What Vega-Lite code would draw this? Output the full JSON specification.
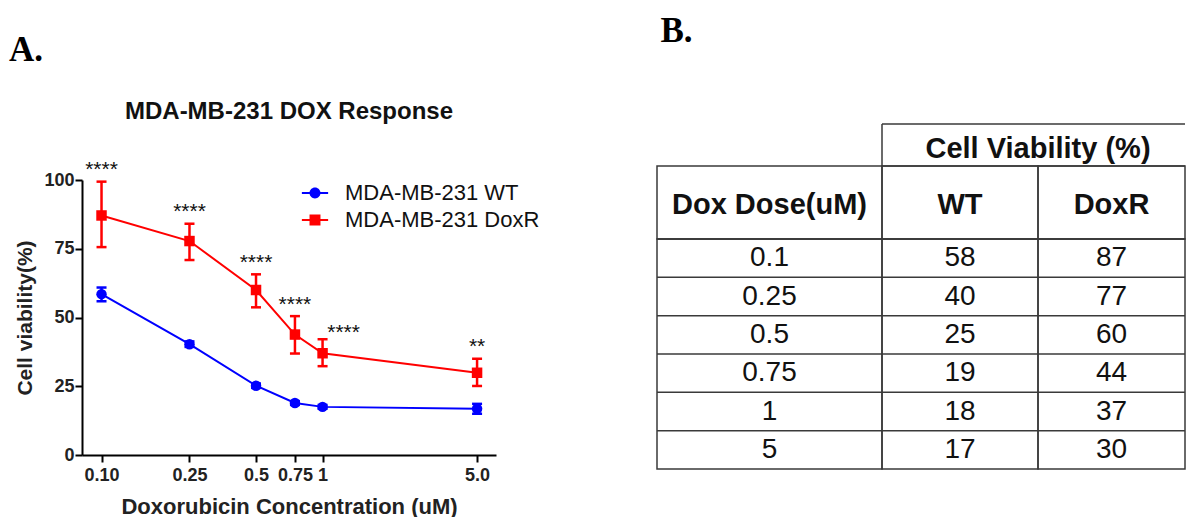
{
  "$schema": "https://vega.github.io/schema/vega-lite/v6.json",
  "padding": {"left": 8, "top": 14, "right": 0, "bottom": 0},
  "background": "white",
  "config": {
    "font": "Liberation Sans",
    "view": {"stroke": "#3a3a3a", "strokeWidth": 1.5}
  },
  "datasets": {
    "dox": [
      {"dose": 0.1, "cell": "MDA-MB-231 WT", "mean": 58.5, "lo": 55.9, "hi": 60.9, "sig": ""},
      {"dose": 0.25, "cell": "MDA-MB-231 WT", "mean": 40.3, "lo": 39.3, "hi": 41.3, "sig": ""},
      {"dose": 0.5, "cell": "MDA-MB-231 WT", "mean": 25.2, "lo": 24.4, "hi": 26.0, "sig": ""},
      {"dose": 0.75, "cell": "MDA-MB-231 WT", "mean": 18.9, "lo": 18.2, "hi": 19.6, "sig": ""},
      {"dose": 1, "cell": "MDA-MB-231 WT", "mean": 17.5, "lo": 16.8, "hi": 18.2, "sig": ""},
      {"dose": 5, "cell": "MDA-MB-231 WT", "mean": 16.8, "lo": 15.0, "hi": 18.6, "sig": ""},
      {"dose": 0.1, "cell": "MDA-MB-231 DoxR", "mean": 87.1, "lo": 75.6, "hi": 99.4, "sig": "****"},
      {"dose": 0.25, "cell": "MDA-MB-231 DoxR", "mean": 77.8, "lo": 70.9, "hi": 84.1, "sig": "****"},
      {"dose": 0.5, "cell": "MDA-MB-231 DoxR", "mean": 60.0, "lo": 53.7, "hi": 65.7, "sig": "****"},
      {"dose": 0.75, "cell": "MDA-MB-231 DoxR", "mean": 43.8, "lo": 36.9, "hi": 50.5, "sig": "****"},
      {"dose": 1, "cell": "MDA-MB-231 DoxR", "mean": 37.0, "lo": 32.3, "hi": 42.1, "sig": "****"},
      {"dose": 5, "cell": "MDA-MB-231 DoxR", "mean": 29.9, "lo": 25.1, "hi": 35.0, "sig": "**"}
    ],
    "table": [
      {"dose": "0.1", "WT": 58, "DoxR": 87},
      {"dose": "0.25", "WT": 40, "DoxR": 77},
      {"dose": "0.5", "WT": 25, "DoxR": 60},
      {"dose": "0.75", "WT": 19, "DoxR": 44},
      {"dose": "1", "WT": 18, "DoxR": 37},
      {"dose": "5", "WT": 17, "DoxR": 30}
    ]
  },
  "spacing": 159,
  "hconcat": [
    {
      "title": {"text": "A.", "font": "Liberation Serif", "fontSize": 35, "fontWeight": "bold", "anchor": "start", "dx": -6, "offset": 32, "color": "black"},
      "spacing": 0,
      "vconcat": [
        {
          "width": 414, "height": 35,
          "view": {"stroke": null},
          "data": {"values": []},
          "mark": "text",
          "title": {"text": "MDA-MB-231 DOX Response", "fontSize": 24, "fontWeight": "bold", "anchor": "middle", "offset": 0, "color": "#111"}
        },
        {
          "width": 414,
          "height": 275,
          "view": {"stroke": null},
          "data": {"name": "dox"},
          "encoding": {
            "x": {
              "field": "dose", "type": "quantitative",
              "scale": {"type": "log", "domain": [0.0816, 6.09], "nice": false},
              "axis": {
                "values": [0.1, 0.25, 0.5, 0.75, 1, 5],
                "labelExpr": "datum.value == 0.1 ? '0.10' : datum.value == 5 ? '5.0' : datum.value + ''",
                "title": "Doxorubicin Concentration (uM)",
                "grid": false, "domainColor": "black", "domainWidth": 2,
                "tickColor": "black", "tickWidth": 2, "tickSize": 7,
                "labelFontSize": 18, "labelFontWeight": "bold", "labelColor": "#222", "labelPadding": 4,
                "labelFlush": false, "labelOverlap": false,
                "titleFontSize": 22, "titleFontWeight": "bold", "titleColor": "#222", "titlePadding": 12
              }
            },
            "color": {
              "field": "cell", "type": "nominal",
              "scale": {"domain": ["MDA-MB-231 WT", "MDA-MB-231 DoxR"], "range": ["#0000ff", "#ff0000"]},
              "legend": {
                "title": null, "orient": "none", "legendX": 222, "legendY": 58,
                "symbolSize": 225, "symbolStrokeWidth": 0, "labelFontSize": 22, "labelColor": "#111",
                "labelOffset": 19, "labelLimit": 400, "rowPadding": 5, "padding": 0
              }
            }
          },
          "layer": [
            {
              "mark": {"type": "line", "strokeWidth": 2},
              "encoding": {
                "y": {
                  "field": "mean", "type": "quantitative",
                  "scale": {"domain": [0, 100], "nice": false},
                  "axis": {
                    "values": [0, 25, 50, 75, 100], "title": "Cell viability(%)", "grid": false,
                    "domainColor": "black", "domainWidth": 2, "tickColor": "black", "tickWidth": 2, "tickSize": 7,
                    "labelFontSize": 18, "labelFontWeight": "bold", "labelColor": "#222", "labelPadding": 1,
                    "titleFontSize": 21, "titleFontWeight": "bold", "titleColor": "#222", "titlePadding": 8
                  }
                }
              }
            },
            {
              "mark": {"type": "rule", "strokeWidth": 2.5},
              "encoding": {"y": {"field": "lo", "type": "quantitative"}, "y2": {"field": "hi"}}
            },
            {
              "mark": {"type": "tick", "orient": "horizontal", "size": 10, "thickness": 2.5, "opacity": 1},
              "encoding": {"y": {"field": "lo", "type": "quantitative"}}
            },
            {
              "mark": {"type": "tick", "orient": "horizontal", "size": 10, "thickness": 2.5, "opacity": 1},
              "encoding": {"y": {"field": "hi", "type": "quantitative"}}
            },
            {
              "mark": {"type": "point", "filled": true, "opacity": 1, "size": 110},
              "encoding": {
                "y": {"field": "mean", "type": "quantitative"},
                "shape": {"condition": {"test": "datum.cell == 'MDA-MB-231 WT'", "value": "circle"}, "value": "square"}
              }
            },
            {
              "transform": [{"filter": "false"}],
              "mark": {"type": "point", "filled": true, "opacity": 1},
              "encoding": {
                "y": {"field": "mean", "type": "quantitative"},
                "shape": {
                  "field": "cell", "type": "nominal",
                  "scale": {
                    "domain": ["MDA-MB-231 WT", "MDA-MB-231 DoxR"],
                    "range": [
                      "M-1.75,-0.13H1.75V0.13H-1.75Z M0.73,0A0.73,0.73,0,1,1,-0.73,0A0.73,0.73,0,1,1,0.73,0Z",
                      "M-1.75,-0.13H1.75V0.13H-1.75Z M-0.73,-0.73H0.73V0.73H-0.73Z"
                    ]
                  },
                  "legend": {
                    "title": null, "orient": "none", "legendX": 222, "legendY": 58,
                    "symbolSize": 225, "symbolStrokeWidth": 0, "labelFontSize": 22, "labelColor": "#111",
                    "labelOffset": 19, "labelLimit": 400, "rowPadding": 5, "padding": 0
                  }
                }
              }
            },
            {
              "transform": [{"filter": "datum.sig != '' && datum.dose != 1"}],
              "mark": {"type": "text", "baseline": "alphabetic", "dy": -5.5, "fontSize": 21},
              "encoding": {"y": {"field": "hi", "type": "quantitative"}, "text": {"field": "sig"}, "color": {"value": "#111"}}
            },
            {
              "transform": [{"filter": "datum.sig != '' && datum.dose == 1"}],
              "mark": {"type": "text", "baseline": "alphabetic", "dy": 0, "dx": 21, "fontSize": 21},
              "encoding": {"y": {"field": "hi", "type": "quantitative"}, "text": {"field": "sig"}, "color": {"value": "#111"}}
            }
          ]
        }
      ]
    },
    {
      "title": {"text": "B.", "font": "Liberation Serif", "fontSize": 35, "fontWeight": "bold", "anchor": "start", "dx": 5, "offset": 74, "color": "black"},
      "columns": 3,
      "align": "each",
      "bounds": "flush",
      "spacing": 0,
      "concat": [
        {"width": 225, "height": 42, "view": {"stroke": null}, "data": {"values": []}, "mark": "text"},
        {
          "width": 156, "height": 42,
          "view": {"stroke": null},
          "data": {"values": [{"edge": "top"}, {"edge": "bottom"}]},
          "layer": [
            {
              "mark": {"type": "rule", "color": "#3a3a3a", "strokeWidth": 1.5},
              "encoding": {"y": {"field": "edge", "type": "nominal", "scale": {"type": "point", "padding": 0, "domain": ["top", "bottom"]}, "axis": null}}
            },
            {
              "data": {"values": [{"edge": "left"}]},
              "mark": {"type": "rule", "color": "#3a3a3a", "strokeWidth": 1.5},
              "encoding": {"x": {"field": "edge", "type": "nominal", "scale": {"type": "point", "padding": 0, "domain": ["left", "right"]}, "axis": null}}
            },
            {
              "data": {"values": [{"edge": "right", "h": "Cell Viability (%)"}]},
              "mark": {"type": "text", "fontSize": 29, "fontWeight": "bold", "color": "#111", "dy": 4},
              "encoding": {"x": {"field": "edge", "type": "nominal", "scale": {"type": "point", "padding": 0, "domain": ["left", "right"]}, "axis": null}, "text": {"field": "h"}}
            }
          ]
        },
        {
          "width": 147, "height": 42,
          "view": {"stroke": null},
          "data": {"values": [{"edge": "top"}, {"edge": "bottom"}]},
          "mark": {"type": "rule", "color": "#3a3a3a", "strokeWidth": 1.5},
          "encoding": {"y": {"field": "edge", "type": "nominal", "scale": {"type": "point", "padding": 0, "domain": ["top", "bottom"]}, "axis": null}}
        },
        {
          "width": 225, "height": 73,
          "data": {"values": [{"h": "Dox Dose(uM)"}]},
          "mark": {"type": "text", "fontSize": 29, "fontWeight": "bold", "color": "#111", "dy": 2},
          "encoding": {"text": {"field": "h"}, "y": {"field": "h", "type": "nominal", "axis": null, "scale": {"paddingInner": 0, "paddingOuter": 0}}}
        },
        {
          "width": 156, "height": 73,
          "data": {"values": [{"h": "WT"}]},
          "mark": {"type": "text", "fontSize": 29, "fontWeight": "bold", "color": "#111", "dy": 2},
          "encoding": {"text": {"field": "h"}, "y": {"field": "h", "type": "nominal", "axis": null, "scale": {"paddingInner": 0, "paddingOuter": 0}}}
        },
        {
          "width": 147, "height": 73,
          "data": {"values": [{"h": "DoxR"}]},
          "mark": {"type": "text", "fontSize": 29, "fontWeight": "bold", "color": "#111", "dy": 2},
          "encoding": {"text": {"field": "h"}, "y": {"field": "h", "type": "nominal", "axis": null, "scale": {"paddingInner": 0, "paddingOuter": 0}}}
        },
        {
          "width": 225, "height": 230,
          "data": {"name": "table"},
          "layer": [
            {
              "mark": {"type": "rule", "color": "#3a3a3a", "strokeWidth": 1.5},
              "encoding": {"y": {"field": "dose", "type": "nominal", "sort": null, "bandPosition": 0, "scale": {"paddingInner": 0, "paddingOuter": 0}, "axis": null}}
            },
            {
              "mark": {"type": "text", "fontSize": 28, "color": "#111"},
              "encoding": {"y": {"field": "dose", "type": "nominal", "sort": null, "axis": null}, "text": {"field": "dose"}}
            }
          ]
        },
        {
          "width": 156, "height": 230,
          "data": {"name": "table"},
          "layer": [
            {
              "mark": {"type": "rule", "color": "#3a3a3a", "strokeWidth": 1.5},
              "encoding": {"y": {"field": "dose", "type": "nominal", "sort": null, "bandPosition": 0, "scale": {"paddingInner": 0, "paddingOuter": 0}, "axis": null}}
            },
            {
              "mark": {"type": "text", "fontSize": 28, "color": "#111"},
              "encoding": {"y": {"field": "dose", "type": "nominal", "sort": null, "axis": null}, "text": {"field": "WT"}}
            }
          ]
        },
        {
          "width": 147, "height": 230,
          "data": {"name": "table"},
          "layer": [
            {
              "mark": {"type": "rule", "color": "#3a3a3a", "strokeWidth": 1.5},
              "encoding": {"y": {"field": "dose", "type": "nominal", "sort": null, "bandPosition": 0, "scale": {"paddingInner": 0, "paddingOuter": 0}, "axis": null}}
            },
            {
              "mark": {"type": "text", "fontSize": 28, "color": "#111"},
              "encoding": {"y": {"field": "dose", "type": "nominal", "sort": null, "axis": null}, "text": {"field": "DoxR"}}
            }
          ]
        }
      ]
    }
  ]
}
